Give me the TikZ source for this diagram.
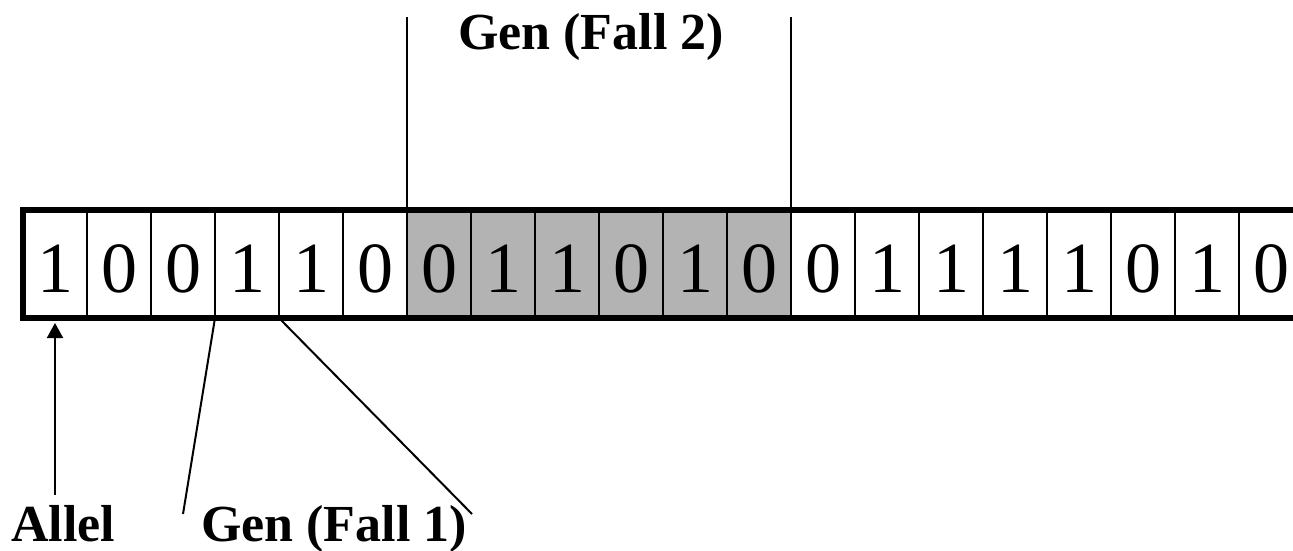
\documentclass[tikz,border=0pt]{standalone}
\usepackage{fontspec}
\setmainfont{Liberation Serif}
\usetikzlibrary{arrows.meta}
\definecolor{genfill}{RGB}{179,179,179}
\begin{document}
\begin{tikzpicture}[x=1pt,y=-1pt,
  cell/.style={draw=black, line width=2pt, minimum width=64pt, minimum height=108pt,
    inner sep=0pt, outer sep=0pt, anchor=north west, text height=56pt, text depth=0pt,
    font=\fontsize{72}{72}\selectfont},
  lbl/.style={font=\fontsize{52}{60}\selectfont\bfseries, inner sep=0pt, anchor=base},
  pointer/.style={line width=2pt},
  frame/.style={line width=6pt}]
\clip (0,0) rectangle (1293,551);
% chromosome: one cell per allele, the gene of case 2 shaded
\foreach \b [count=\i] in {1,0,0,1,1,0,0,1,1,0,1,0,0,1,1,1,1,0,1,0} {
  \ifnum\i>6 \ifnum\i<13 \def\cellfill{genfill}\else\def\cellfill{white}\fi
  \else\def\cellfill{white}\fi
  \node[cell, fill=\cellfill] (c\i) at ({23+64*(\i-1)},210) {\b};
}
% heavy outline of the chromosome
\draw[frame] (c20.north east) -- (c1.north west) -- (c1.south west) -- (c20.south east);

% labels
\node[lbl] (allel) at (63,541) {Allel};
\node[lbl] (fall1) at (334,541) {Gen (Fall 1)};
\node[lbl] (fall2) at (591,50) {Gen (Fall 2)};

% case 2: brackets above the shaded gene
\coordinate (f2l) at (407,17);
\coordinate (f2r) at (791,17);
\draw[pointer] (c7.north west) -- (f2l);
\draw[pointer] (c12.north east) -- (f2r);

% case 1: a single cell fanned out to its label
\coordinate (f1l) at (183,514);
\coordinate (f1r) at (472,514);
\draw[pointer] (c4.south west) -- (f1l);
\draw[pointer] (c4.south east) -- (f1r);

% allele pointer
\draw[pointer, shorten <=10pt, shorten >=5pt, -{Triangle[length=15pt,width=16pt]}]
  (allel.north -| c1.south) -- (c1.south);
\end{tikzpicture}
\end{document}
